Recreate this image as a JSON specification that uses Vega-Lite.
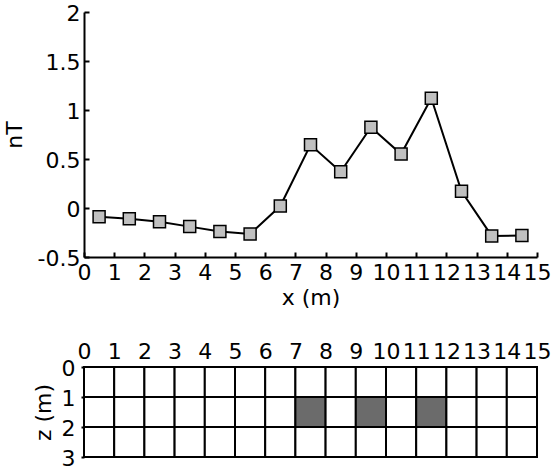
{
  "$schema": "https://vega.github.io/schema/vega-lite/v6.json",
  "bounds": "flush",
  "spacing": 110,
  "padding": {"left": 3, "top": 2, "right": 5, "bottom": 5},
  "config": {
    "view": {"stroke": null},
    "font": "DejaVu Sans",
    "axis": {
      "labelFont": "DejaVu Sans", "titleFont": "DejaVu Sans",
      "labelFontSize": 22, "titleFontSize": 22, "titleFontWeight": "normal",
      "labelColor": "black", "titleColor": "black",
      "domainColor": "black", "tickColor": "black",
      "domainWidth": 2, "tickWidth": 2, "grid": false
    }
  },
  "datasets": {
    "profile": [
      {"x": 0.5, "nT": -0.09}, {"x": 1.5, "nT": -0.11}, {"x": 2.5, "nT": -0.14},
      {"x": 3.5, "nT": -0.19}, {"x": 4.5, "nT": -0.24}, {"x": 5.5, "nT": -0.265},
      {"x": 6.5, "nT": 0.02}, {"x": 7.5, "nT": 0.645}, {"x": 8.5, "nT": 0.37},
      {"x": 9.5, "nT": 0.825}, {"x": 10.5, "nT": 0.55}, {"x": 11.5, "nT": 1.12},
      {"x": 12.5, "nT": 0.17}, {"x": 13.5, "nT": -0.285}, {"x": 14.5, "nT": -0.28}
    ],
    "cells": [
      {"x0":0,"x1":1,"z0":0,"z1":1,"b":0},{"x0":1,"x1":2,"z0":0,"z1":1,"b":0},{"x0":2,"x1":3,"z0":0,"z1":1,"b":0},{"x0":3,"x1":4,"z0":0,"z1":1,"b":0},{"x0":4,"x1":5,"z0":0,"z1":1,"b":0},{"x0":5,"x1":6,"z0":0,"z1":1,"b":0},{"x0":6,"x1":7,"z0":0,"z1":1,"b":0},{"x0":7,"x1":8,"z0":0,"z1":1,"b":0},{"x0":8,"x1":9,"z0":0,"z1":1,"b":0},{"x0":9,"x1":10,"z0":0,"z1":1,"b":0},{"x0":10,"x1":11,"z0":0,"z1":1,"b":0},{"x0":11,"x1":12,"z0":0,"z1":1,"b":0},{"x0":12,"x1":13,"z0":0,"z1":1,"b":0},{"x0":13,"x1":14,"z0":0,"z1":1,"b":0},{"x0":14,"x1":15,"z0":0,"z1":1,"b":0},
      {"x0":0,"x1":1,"z0":1,"z1":2,"b":0},{"x0":1,"x1":2,"z0":1,"z1":2,"b":0},{"x0":2,"x1":3,"z0":1,"z1":2,"b":0},{"x0":3,"x1":4,"z0":1,"z1":2,"b":0},{"x0":4,"x1":5,"z0":1,"z1":2,"b":0},{"x0":5,"x1":6,"z0":1,"z1":2,"b":0},{"x0":6,"x1":7,"z0":1,"z1":2,"b":0},{"x0":7,"x1":8,"z0":1,"z1":2,"b":1},{"x0":8,"x1":9,"z0":1,"z1":2,"b":0},{"x0":9,"x1":10,"z0":1,"z1":2,"b":1},{"x0":10,"x1":11,"z0":1,"z1":2,"b":0},{"x0":11,"x1":12,"z0":1,"z1":2,"b":1},{"x0":12,"x1":13,"z0":1,"z1":2,"b":0},{"x0":13,"x1":14,"z0":1,"z1":2,"b":0},{"x0":14,"x1":15,"z0":1,"z1":2,"b":0},
      {"x0":0,"x1":1,"z0":2,"z1":3,"b":0},{"x0":1,"x1":2,"z0":2,"z1":3,"b":0},{"x0":2,"x1":3,"z0":2,"z1":3,"b":0},{"x0":3,"x1":4,"z0":2,"z1":3,"b":0},{"x0":4,"x1":5,"z0":2,"z1":3,"b":0},{"x0":5,"x1":6,"z0":2,"z1":3,"b":0},{"x0":6,"x1":7,"z0":2,"z1":3,"b":0},{"x0":7,"x1":8,"z0":2,"z1":3,"b":0},{"x0":8,"x1":9,"z0":2,"z1":3,"b":0},{"x0":9,"x1":10,"z0":2,"z1":3,"b":0},{"x0":10,"x1":11,"z0":2,"z1":3,"b":0},{"x0":11,"x1":12,"z0":2,"z1":3,"b":0},{"x0":12,"x1":13,"z0":2,"z1":3,"b":0},{"x0":13,"x1":14,"z0":2,"z1":3,"b":0},{"x0":14,"x1":15,"z0":2,"z1":3,"b":0}
    ]
  },
  "vconcat": [
    {
      "width": 453,
      "height": 245,
      "data": {"name": "profile"},
      "encoding": {
        "x": {"field": "x", "type": "quantitative",
              "scale": {"domain": [0, 15], "nice": false},
              "axis": {"title": "x (m)", "values": [0,1,2,3,4,5,6,7,8,9,10,11,12,13,14,15],
                       "tickSize": -5, "labelPadding": 10, "titlePadding": 4, "labelFlush": false, "labelOverlap": false}},
        "y": {"field": "nT", "type": "quantitative",
              "scale": {"domain": [-0.5, 2], "nice": false, "zero": false},
              "axis": {"title": "nT", "values": [-0.5, 0, 0.5, 1, 1.5, 2],
                       "labelExpr": "replace(format(datum.value, '.1~f'), '\u2212', '-')",
                       "tickSize": -5, "labelPadding": 9, "titlePadding": 11, "labelOffset": 1, "labelFlush": false, "labelOverlap": false}}
      },
      "layer": [
        {"mark": {"type": "line", "color": "black", "strokeWidth": 2}},
        {"mark": {"type": "point", "shape": "square", "size": 144, "filled": true, "fill": "#c0c0c0", "stroke": "black", "strokeWidth": 1.5, "opacity": 1}}
      ]
    },
    {
      "width": 453,
      "height": 90,
      "data": {"name": "cells"},
      "mark": {"type": "rect", "stroke": "black", "strokeWidth": 2},
      "encoding": {
        "x": {"field": "x0", "type": "quantitative",
              "scale": {"domain": [0, 15], "nice": false},
              "axis": {"orient": "top", "title": null, "values": [0,1,2,3,4,5,6,7,8,9,10,11,12,13,14,15],
                       "domain": false, "ticks": false, "labelPadding": 4, "labelFlush": false, "labelOverlap": false}},
        "x2": {"field": "x1"},
        "y": {"field": "z0", "type": "quantitative",
              "scale": {"domain": [0, 3], "nice": false, "reverse": true},
              "axis": {"title": "z (m)", "values": [0, 1, 2, 3], "domain": false, "tickSize": 3,
                       "labelPadding": 6, "labelOffset": 1.5, "titlePadding": 6, "labelFlush": false, "labelOverlap": false}},
        "y2": {"field": "z1"},
        "fill": {"field": "b", "type": "nominal", "legend": null,
                 "scale": {"domain": [0, 1], "range": ["white", "#6b6b6b"]}}
      }
    }
  ]
}
